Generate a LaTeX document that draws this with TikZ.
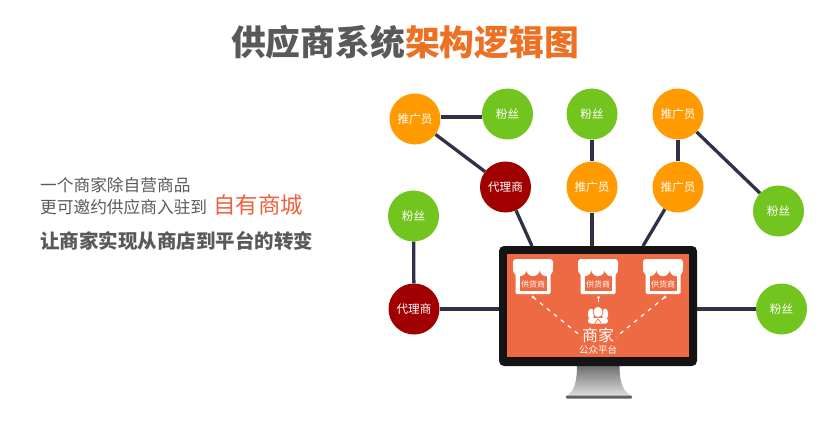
\documentclass[tikz,border=0pt]{standalone}
\usepackage{fontspec}
\setmainfont{Noto Sans CJK SC}
\definecolor{linec}{HTML}{2F3247}
\definecolor{greenc}{HTML}{72C41F}
\definecolor{orangec}{HTML}{FF9A00}
\definecolor{redc}{HTML}{A00000}
\definecolor{screenc}{HTML}{EE6A42}
\definecolor{greyt}{HTML}{595959}
\definecolor{titleo}{HTML}{ED7125}
\definecolor{redt}{HTML}{F0603A}
\tikzset{
  circ/.style={circle,minimum size=51pt,inner sep=0pt,text=white,font=\fontsize{11.6}{11.6}\selectfont},
  fans/.style={circ,fill=greenc},
  promoter/.style={circ,fill=orangec},
  agent/.style={circ,fill=redc},
  conn/.style={draw=linec,line width=3.3pt},
  txt/.style={inner sep=0pt,anchor=west,text=greyt},
  dashl/.style={draw=white,line width=1.3pt,dash pattern=on 4pt off 5pt},
}
\newcommand{\storeicon}[2]{%
  \fill[white,rounded corners=3pt] (#1-20,259) rectangle (#1+20,270);
  \fill[white,rounded corners=1.5pt] (#1-17.5,266) rectangle (#1+17.5,294);
  \fill[screenc] (#1-13.5,270) rectangle (#1+13.5,290.5);
  \fill[white] (#1-13.3,269.5) circle (6.67) (#1,269.5) circle (6.67) (#1+13.3,269.5) circle (6.67);
  \node[inner sep=0pt,text=white,font=\fontsize{8}{8}\selectfont] (store#2) at (#1,284) {供货商};
}
\begin{document}
\begin{tikzpicture}[x=1pt,y=-1pt]
\useasboundingbox (0,0) rectangle (828,421);
% title
\node[inner sep=0pt,font=\fontsize{34.8}{34.8}\selectfont\bfseries] (title) at (405,42) {\textcolor{greyt}{供应商系统}\textcolor{titleo}{架构逻辑图}};
% left text
\node[txt,font=\fontsize{16.7}{16.7}\selectfont] (l1) at (40,185) {一个商家除自营商品};
\node[txt,font=\fontsize{16.7}{16.7}\selectfont] (l2) at (40,207) {更可邀约供应商入驻到};
\node[txt,text=redt,font=\fontsize{22.4}{22.4}\selectfont] (l3) at (213,205) {自有商城};
\node[txt,font=\fontsize{19.5}{19.5}\selectfont\bfseries] (l4) at (40,241) {让商家实现从商店到平台的转变};
% stand
\shade[top color=gray!85!black,bottom color=gray!25] (577,365) -- (619.5,365) .. controls (619.5,383) and (623,392) .. (632,396) -- (566,396) .. controls (574,392) and (577,383) .. (577,365) -- cycle;
\fill[gray!75!black,rounded corners=1pt] (566,395.5) rectangle (632,398.5);
% monitor
\node[fill=black!92,rounded corners=5pt,minimum width=198pt,minimum height=120pt,inner sep=0pt] (mon) at (598,306) {};
\node[fill=screenc,minimum width=182pt,minimum height=103pt,inner sep=0pt] (screen) at (598,305.5) {};
% circles
\node[promoter] (p1) at (415,119) {推广员};
\node[fans] (f1) at (507.5,114) {粉丝};
\node[fans] (f2) at (592,114) {粉丝};
\node[promoter] (p2) at (678,114) {推广员};
\node[agent] (a1) at (505.5,187) {代理商};
\node[promoter] (p3) at (592,187) {推广员};
\node[promoter] (p4) at (678,187) {推广员};
\node[fans] (f3) at (413.5,216) {粉丝};
\node[agent] (a2) at (414,309) {代理商};
\node[fans] (f4) at (778.5,211) {粉丝};
\node[fans] (f5) at (781.5,309) {粉丝};
% connectors
\coordinate (m1) at (532,246);
\coordinate (m2) at (592,246);
\coordinate (m3) at (643,246);
\coordinate (m4) at (499,309);
\coordinate (m5) at (697,309);
\draw[conn] (p1.east |- 0,117) -- (f1.west |- 0,117);
\draw[conn] (p1) -- (a1);
\draw[conn] (f2) -- (p3);
\draw[conn] (p2) -- (p4);
\draw[conn] (p2) -- (f4);
\draw[conn] (f3) -- (a2);
\draw[conn] (a1) -- (m1);
\draw[conn] (p3) -- (m2);
\draw[conn] (p4) -- (m3);
\draw[conn] (a2) -- (m4);
\draw[conn] (f5) -- (m5);
% stores
\storeicon{533}{a}
\storeicon{598}{b}
\storeicon{663}{c}
% merchant
\fill[white] (591,314) ellipse (3.2 and 5.5) (605,314) ellipse (3.2 and 5.5);
\fill[white,rounded corners=2.5pt] (588,323.5) -- (588,318) -- (608,318) -- (608,323.5) -- cycle;
\draw[screenc,line width=0.7pt,fill=white] (598,312) ellipse (5 and 5.6);
\draw[screenc,line width=0.7pt] (595,323) -- (598,319) -- (601,323);
\node[inner sep=0pt,text=white,font=\fontsize{16}{16}\selectfont] (shang) at (598,335) {商家};
\node[inner sep=0pt,text=white,font=\fontsize{9.5}{9.5}\selectfont] (gz) at (598,349.5) {公众平台};
% dots and dashes
\coordinate (da) at (533,297);
\coordinate (db) at (598.5,297.5);
\coordinate (dc) at (665,297);
\fill[white] (da) circle (1.7) (db) circle (1.7) (dc) circle (1.7);
\draw[dashl] (da) -- (582,337);
\draw[dashl] (db) -- (598.5,304);
\draw[dashl] (dc) -- (616,337);
\end{tikzpicture}
\end{document}
